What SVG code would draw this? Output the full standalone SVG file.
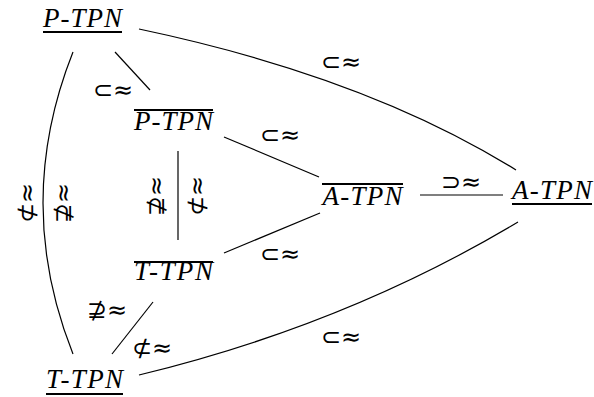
<svg xmlns="http://www.w3.org/2000/svg" width="594" height="397" viewBox="0 0 594 397">
<style>
.n{font-family:"Liberation Serif",serif;font-style:italic;font-size:27px;fill:#000;text-anchor:middle}
.bar{stroke:#000;stroke-width:2.2}
.e{fill:none;stroke:#000;stroke-width:1.2}
.l{font-family:"DejaVu Sans",sans-serif;font-size:24px;fill:#000;text-anchor:middle;dominant-baseline:central}
</style>
<rect width="594" height="397" fill="#fff"/>
<g id="connectors">
<path class="e" d="M139,29 Q367,77 516,170"/>
<path class="e" d="M139,375 Q346,325 518,222"/>
<path class="e" d="M73,52 Q13,203 73,354"/>
<line class="e" x1="115" y1="52" x2="150" y2="90"/>
<line class="e" x1="224" y1="137" x2="319" y2="177"/>
<line class="e" x1="224" y1="253" x2="320" y2="213"/>
<line class="e" x1="420" y1="195" x2="503" y2="195"/>
<line class="e" x1="178" y1="151" x2="178" y2="240"/>
<line class="e" x1="112" y1="354" x2="153" y2="302"/>
<text class="l" x="341" y="62">⊂≈</text>
<text class="l" x="113" y="90">⊂≈</text>
<text class="l" x="280" y="135">⊂≈</text>
<text class="l" x="280" y="254">⊂≈</text>
<text class="l" x="461" y="182">⊃≈</text>
<text class="l" x="341" y="337">⊂≈</text>
<text class="l" x="107" y="310">⊉≈</text>
<text class="l" x="152" y="348">⊄≈</text>
<text class="l" transform="translate(156,196) rotate(-90)">⊉≈</text>
<text class="l" transform="translate(197,196) rotate(-90)">⊄≈</text>
<text class="l" transform="translate(27,203) rotate(-90)">⊄≈</text>
<text class="l" transform="translate(63,203) rotate(-90)">⊉≈</text>
</g>
<g id="P-TPN">
<text class="n" x="82.5" y="27" textLength="79" lengthAdjust="spacing">P-TPN</text>
<line class="bar" x1="43" y1="32" x2="122" y2="32"/>
</g>
<g id="P-TPN-bar">
<line class="bar" x1="134" y1="110" x2="213" y2="110"/>
<text class="n" x="173.5" y="130" textLength="79" lengthAdjust="spacing">P-TPN</text>
</g>
<g id="A-TPN-bar">
<line class="bar" x1="322" y1="184" x2="403" y2="184"/>
<text class="n" x="362.5" y="205" textLength="80" lengthAdjust="spacing">A-TPN</text>
</g>
<g id="A-TPN">
<text class="n" x="552" y="199" textLength="80" lengthAdjust="spacing">A-TPN</text>
<line class="bar" x1="512" y1="204" x2="592" y2="204"/>
</g>
<g id="T-TPN-bar">
<line class="bar" x1="134" y1="262" x2="213" y2="262"/>
<text class="n" x="173.5" y="280" textLength="79" lengthAdjust="spacing">T-TPN</text>
</g>
<g id="T-TPN">
<text class="n" x="84.5" y="388" textLength="77" lengthAdjust="spacing">T-TPN</text>
<line class="bar" x1="46" y1="394" x2="123" y2="394"/>
</g>
</svg>
